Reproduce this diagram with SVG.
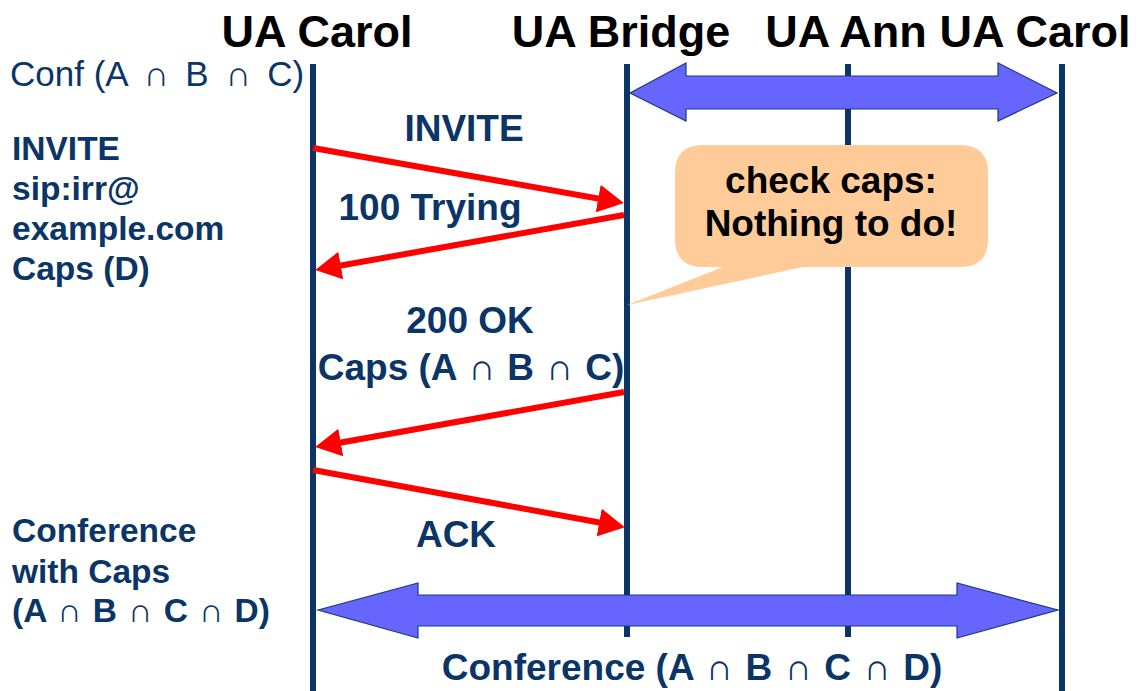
<svg xmlns="http://www.w3.org/2000/svg" width="1139" height="691" viewBox="0 0 1139 691">
  <style>
    .hdr { font-family: "Liberation Sans", Arial, sans-serif; font-weight: bold; font-size: 45px; fill: #000; text-anchor: middle; }
    .lbl { font-family: "Liberation Sans", Arial, sans-serif; font-weight: bold; font-size: 33.5px; fill: #0A3566; }
    .msg { font-family: "Liberation Sans", Arial, sans-serif; font-weight: bold; font-size: 37px; fill: #0A3566; text-anchor: middle; }
    .note { font-family: "Liberation Sans", Arial, sans-serif; font-weight: bold; font-size: 37px; fill: #000; text-anchor: middle; }
    .conf { font-family: "Liberation Sans", Arial, sans-serif; font-size: 35px; fill: #0A3566; }
    .cap { font-family: "Liberation Sans", Arial, sans-serif; font-weight: normal; }
    .life { stroke: #0A3566; stroke-width: 6; fill: none; }
    .msgline { stroke: #FF0000; stroke-width: 6; fill: none; marker-end: url(#head); }
    .media { fill: #6666FF; stroke: #1A3A7A; stroke-width: 1.2; }
  </style>
  <defs>
    <marker id="head" markerUnits="userSpaceOnUse" viewBox="0 0 26 28" refX="14" refY="14" markerWidth="26" markerHeight="28" orient="auto">
      <path d="M0,0 L26,14 L0,28 Z" fill="#FF0000"/>
    </marker>
  </defs>

  <rect width="1139" height="691" fill="#FFFFFF"/>

  <!-- lifelines -->
  <g id="lifelines">
    <line class="life" x1="313" y1="64" x2="313" y2="691"/>
    <line class="life" x1="627" y1="64" x2="627" y2="637"/>
    <line class="life" x1="848" y1="64" x2="848" y2="637"/>
    <line class="life" x1="1062" y1="64" x2="1062" y2="691"/>
  </g>

  <!-- participant headers -->
  <g id="ua-carol"><text class="hdr" x="317" y="47">UA Carol</text></g>
  <g id="ua-bridge"><text class="hdr" x="621" y="47">UA Bridge</text></g>
  <g id="ua-ann"><text class="hdr" x="846" y="47">UA Ann</text></g>
  <g id="ua-carol-2"><text class="hdr" x="1035" y="47">UA Carol</text></g>

  <!-- media streams -->
  <g id="media">
    <polygon class="media" points="630,93 686,63 686,76 998,76 998,63 1057,93 998,121 998,109 686,109 686,121"/>
    <polygon class="media" points="318,610 418,583 418,595 957,595 957,583 1058,610 957,638 957,626 418,626 418,638"/>
  </g>

  <!-- signalling messages -->
  <g id="connectors">
    <line class="msgline" x1="313" y1="148" x2="612" y2="201"/>
    <line class="msgline" x1="624" y1="215" x2="327" y2="268"/>
    <line class="msgline" x1="624" y1="392" x2="327" y2="445"/>
    <line class="msgline" x1="313" y1="470" x2="613" y2="525"/>
  </g>

  <!-- message labels -->
  <g id="msg-labels">
    <text class="msg" x="464" y="141">INVITE</text>
    <text class="msg" x="430" y="220">100 Trying</text>
    <text class="msg" x="470" y="333">200 OK</text>
    <text class="msg" x="471" y="380">Caps (A <tspan class="cap" dx="2">∩</tspan><tspan dx="2"> B </tspan><tspan class="cap" dx="2">∩</tspan><tspan dx="2"> C)</tspan></text>
    <text class="msg" x="456" y="547">ACK</text>
    <text class="msg" x="692" y="680">Conference (A <tspan class="cap" dx="2.5">∩</tspan><tspan dx="2.5"> B </tspan><tspan class="cap" dx="2.5">∩</tspan><tspan dx="2.5"> C </tspan><tspan class="cap" dx="2.5">∩</tspan><tspan dx="2.5"> D)</tspan></text>
  </g>

  <!-- side notes -->
  <g id="conf-state">
    <text class="conf" x="10" y="86">Conf (A <tspan class="cap" dx="7">∩</tspan><tspan dx="7"> B </tspan><tspan class="cap" dx="7">∩</tspan><tspan dx="7"> C)</tspan></text>
  </g>
  <g id="invite-note">
    <text class="lbl" x="12" y="160">INVITE</text>
    <text class="lbl" x="12" y="200">sip:irr@</text>
    <text class="lbl" x="12" y="240">example.com</text>
    <text class="lbl" x="12" y="280">Caps (D)</text>
  </g>
  <g id="conference-note">
    <text class="lbl" x="12" y="542">Conference</text>
    <text class="lbl" x="12" y="583">with Caps</text>
    <text class="lbl" x="12" y="622">(A <tspan class="cap" dx="2">∩</tspan><tspan dx="2"> B </tspan><tspan class="cap" dx="2">∩</tspan><tspan dx="2"> C </tspan><tspan class="cap" dx="2">∩</tspan><tspan dx="2"> D)</tspan></text>
  </g>

  <!-- callout at the bridge -->
  <g id="check-caps">
    <path d="M703,145 H960 Q988,145 988,173 V239 Q988,267 960,267 H803 L627,305 L723,267 H703 Q675,267 675,239 V173 Q675,145 703,145 Z" fill="#FFCC99"/>
    <text class="note" x="831" y="193">check caps:</text>
    <text class="note" x="831" y="236">Nothing to do!</text>
  </g>
</svg>
